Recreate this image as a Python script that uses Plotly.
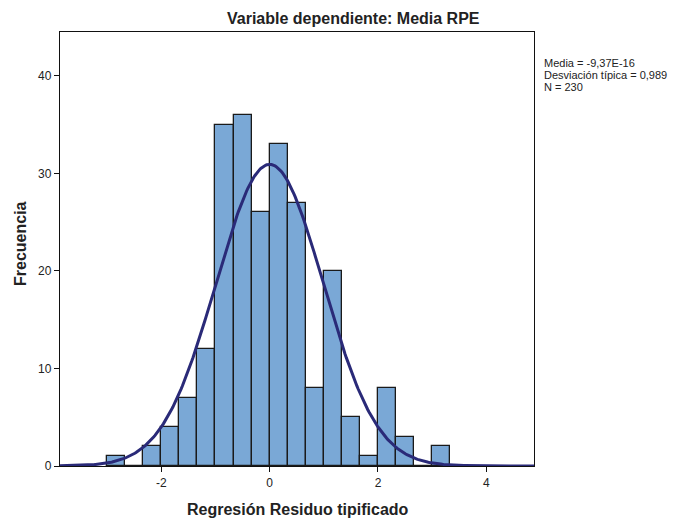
import numpy as np
import plotly.graph_objects as go

# Histogram data (bins of width 1/3 starting at -3)
bin_start = -3.0
bin_width = 1.0 / 3.0
counts = [1, 0, 2, 4, 7, 12, 35, 36, 26, 33, 27, 8, 20, 5, 1, 8, 3, 0, 2]

# Summary statistics
media = -9.37e-16
desv = 0.989
n_total = 230
stats_lines = ["Media = -9,37E-16", "Desviación típica = 0,989", "N = 230"]

x_ticks = [-2, 0, 2, 4]
y_ticks = [0, 10, 20, 30, 40]

centers = [bin_start + bin_width * (i + 0.5) for i in range(len(counts))]

xr = [-3.87, 4.88]
xs = np.linspace(xr[0], xr[1], 400)
ys = n_total * bin_width / (desv * np.sqrt(2 * np.pi)) * np.exp(-0.5 * ((xs - media) / desv) ** 2)

fig = go.Figure()
fig.add_trace(go.Bar(
    x=centers, y=counts, width=bin_width,
    marker=dict(color="#7AA8D6", line=dict(color="#1a1a1a", width=1.3)),
    showlegend=False, hoverinfo="skip"))
fig.add_trace(go.Scatter(
    x=xs, y=ys, mode="lines",
    line=dict(color="#2A2A78", width=3),
    showlegend=False, hoverinfo="skip"))

font_family = "Liberation Sans, Arial, sans-serif"
L, R, T, B = 60, 150, 32, 55
W, H = 684, 521
pw, ph = W - L - R, H - T - B


def px(xpix):
    return (xpix - L) / pw


def py(ypix):
    return (H - B - ypix) / ph


annotations = [
    dict(text="<b>Variable dependiente: Media RPE</b>", xref="paper", yref="paper",
         x=px(353), y=py(18), xanchor="center", yanchor="middle",
         showarrow=False, font=dict(size=16, color="#222")),
    dict(text="<b>Regresión Residuo tipificado</b>", xref="paper", yref="paper",
         x=px(298), y=py(509), xanchor="center", yanchor="middle",
         showarrow=False, font=dict(size=16, color="#222")),
    dict(text="<b>Frecuencia</b>", xref="paper", yref="paper", textangle=-90,
         x=px(20), y=py(244), xanchor="center", yanchor="middle",
         showarrow=False, font=dict(size=16, color="#222")),
]
for i, line in enumerate(stats_lines):
    annotations.append(dict(text=line, xref="paper", yref="paper",
                            x=px(542), y=py(63 + 12 * i), xanchor="left", yanchor="middle",
                            showarrow=False, font=dict(size=11, color="#222")))

fig.update_layout(
    width=W, height=H,
    margin=dict(l=L, r=R, t=T, b=B),
    paper_bgcolor="white", plot_bgcolor="white",
    font=dict(family=font_family, color="#222", size=12),
    bargap=0,
    xaxis=dict(range=xr, tickvals=x_ticks, ticktext=[str(v) for v in x_ticks],
               showgrid=False, zeroline=False, showline=True, linecolor="#111",
               linewidth=1.3, mirror=True, ticks="outside", ticklen=5, tickcolor="#111",
               tickfont=dict(size=12, color="#222"), automargin=False),
    yaxis=dict(range=[0, 44.5], tickvals=y_ticks,
               showgrid=False, zeroline=False, showline=True, linecolor="#111",
               linewidth=1.3, mirror=True, ticks="outside", ticklen=5, tickcolor="#111",
               tickfont=dict(size=12, color="#222"), automargin=False),
    annotations=annotations,
)

fig.write_html("out.html")
